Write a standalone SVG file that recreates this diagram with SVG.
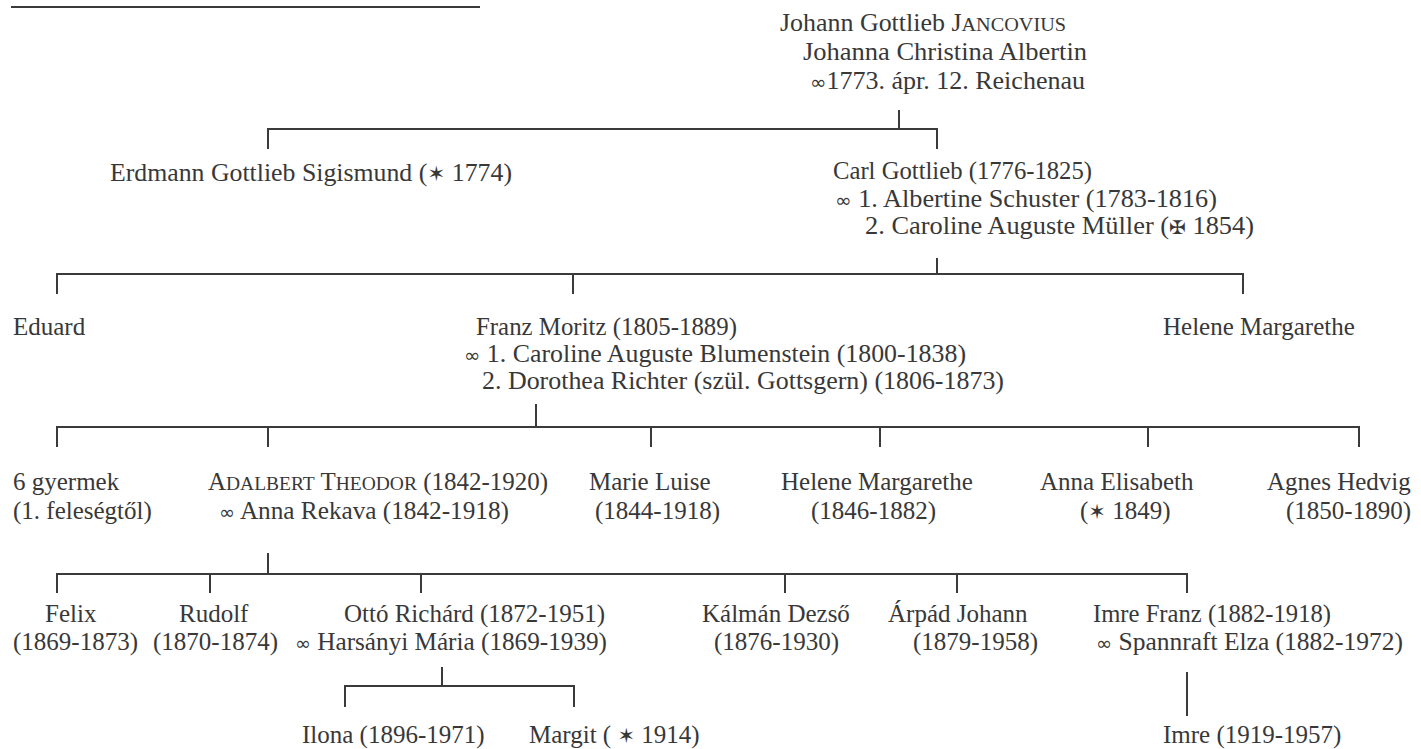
<svg xmlns="http://www.w3.org/2000/svg" width="1421" height="749" viewBox="0 0 1421 749">
<style>
text{font-family:"Liberation Serif","Times New Roman",serif;font-size:25px;fill:#383838}
.sc{font-size:19.5px}
.sym{font-family:"DejaVu Sans",sans-serif;font-size:19px}
.star{font-family:"DejaVu Sans",sans-serif;font-size:21px}
#connectors path{fill:none;stroke:#3a3a3a;stroke-width:2}
</style>
<rect width="1421" height="749" fill="#ffffff"/>
<g id="connectors">
<path d="M11 7H480"/>
<path d="M899 110V129M268 149V129H937V149"/>
<path d="M937 258V274M57 294V274H1243V294M573 274V294"/>
<path d="M536 404V427M57 447V427H1359V447M268 427V447M651 427V447M880 427V447M1148 427V447"/>
<path d="M268 553V574M57 593V574H1187V593M210 574V593M421 574V593M785 574V593M957 574V593"/>
<path d="M442 667V686M345 707V686H574V707"/>
<path d="M1187 672V716"/>
</g>
<g id="n-johann">
<text x="780" y="31" textLength="286" lengthAdjust="spacingAndGlyphs">Johann Gottlieb J<tspan class="sc">ANCOVIUS</tspan></text>
<text x="803" y="60" textLength="284" lengthAdjust="spacingAndGlyphs">Johanna Christina Albertin</text>
<text x="810" y="89" textLength="275" lengthAdjust="spacingAndGlyphs"><tspan class="sym">∞</tspan>1773. ápr. 12. Reichenau</text>
</g>
<g id="n-erdmann">
<text x="110" y="181" textLength="402" lengthAdjust="spacingAndGlyphs">Erdmann Gottlieb Sigismund (<tspan class="star">✶</tspan> 1774)</text>
</g>
<g id="n-carl">
<text x="833" y="179" textLength="259" lengthAdjust="spacingAndGlyphs">Carl Gottlieb (1776-1825)</text>
<text x="835" y="207" textLength="382" lengthAdjust="spacingAndGlyphs"><tspan class="sym">∞</tspan> 1. Albertine Schuster (1783-1816)</text>
<text x="865" y="234" textLength="389" lengthAdjust="spacingAndGlyphs">2. Caroline Auguste Müller (<tspan class="sym">✠</tspan> 1854)</text>
</g>
<g id="n-eduard">
<text x="13" y="335">Eduard</text>
</g>
<g id="n-franz">
<text x="476" y="335" textLength="261" lengthAdjust="spacingAndGlyphs">Franz Moritz (1805-1889)</text>
<text x="464" y="362" textLength="502" lengthAdjust="spacingAndGlyphs"><tspan class="sym">∞</tspan> 1. Caroline Auguste Blumenstein (1800-1838)</text>
<text x="482" y="389" textLength="522" lengthAdjust="spacingAndGlyphs">2. Dorothea Richter (szül. Gottsgern) (1806-1873)</text>
</g>
<g id="n-helene1">
<text x="1163" y="335">Helene Margarethe</text>
</g>
<g id="n-6gyermek">
<text x="13" y="490">6 gyermek</text>
<text x="13" y="519">(1. feleségtől)</text>
</g>
<g id="n-adalbert">
<text x="208" y="490" textLength="340" lengthAdjust="spacingAndGlyphs">A<tspan class="sc">DALBERT</tspan> T<tspan class="sc">HEODOR</tspan> (1842-1920)</text>
<text x="219" y="519" textLength="290" lengthAdjust="spacingAndGlyphs"><tspan class="sym">∞</tspan> Anna Rekava (1842-1918)</text>
</g>
<g id="n-marie">
<text x="589" y="490">Marie Luise</text>
<text x="595" y="519">(1844-1918)</text>
</g>
<g id="n-helene2">
<text x="781" y="490">Helene Margarethe</text>
<text x="811" y="519">(1846-1882)</text>
</g>
<g id="n-anna">
<text x="1040" y="490">Anna Elisabeth</text>
<text x="1080" y="519">(<tspan class="star">✶</tspan> 1849)</text>
</g>
<g id="n-agnes">
<text x="1267" y="490">Agnes Hedvig</text>
<text x="1286" y="519">(1850-1890)</text>
</g>
<g id="n-felix">
<text x="45" y="622">Felix</text>
<text x="13" y="650">(1869-1873)</text>
</g>
<g id="n-rudolf">
<text x="179" y="622">Rudolf</text>
<text x="153" y="650">(1870-1874)</text>
</g>
<g id="n-otto">
<text x="344" y="622" textLength="261" lengthAdjust="spacingAndGlyphs">Ottó Richárd (1872-1951)</text>
<text x="295" y="650" textLength="312" lengthAdjust="spacingAndGlyphs"><tspan class="sym">∞</tspan> Harsányi Mária (1869-1939)</text>
</g>
<g id="n-kalman">
<text x="702" y="622">Kálmán Dezső</text>
<text x="714" y="650">(1876-1930)</text>
</g>
<g id="n-arpad">
<text x="888" y="622">Árpád Johann</text>
<text x="913" y="650">(1879-1958)</text>
</g>
<g id="n-imref">
<text x="1093" y="622" textLength="238" lengthAdjust="spacingAndGlyphs">Imre Franz (1882-1918)</text>
<text x="1096" y="650" textLength="307" lengthAdjust="spacingAndGlyphs"><tspan class="sym">∞</tspan> Spannraft Elza (1882-1972)</text>
</g>
<g id="n-ilona">
<text x="302" y="743">Ilona (1896-1971)</text>
</g>
<g id="n-margit">
<text x="529" y="743">Margit ( <tspan class="star">✶</tspan> 1914)</text>
</g>
<g id="n-imre">
<text x="1163" y="743">Imre (1919-1957)</text>
</g>
</svg>
